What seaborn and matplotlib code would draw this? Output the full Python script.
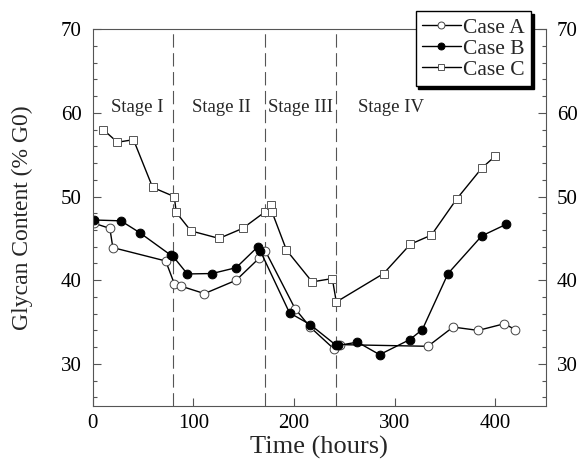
import matplotlib
matplotlib.use("Agg")
import matplotlib.pyplot as plt
from matplotlib.ticker import MultipleLocator
import seaborn as sns
import pandas as pd

# Glycan content (% G0) over culture time for three cases
case_a_time = [1.6, 17, 20, 72.5, 81, 87.5, 111, 142.5, 165, 171.5, 201, 216,
               239.5, 246, 333, 358, 383, 409, 419.5]
case_a_g0 = [46.8, 46.2, 43.9, 42.3, 39.6, 39.3, 38.4, 40.0, 42.6, 43.5, 36.6,
             34.4, 31.8, 32.3, 32.1, 34.4, 34.0, 34.8, 34.1]

case_b_time = [1.6, 28, 46.5, 77.5, 79.5, 94, 118.5, 142.5, 164, 166.5, 195.5,
               216, 242, 244, 263, 285, 315, 327.5, 353, 386.5, 411]
case_b_g0 = [47.2, 47.1, 45.7, 43.0, 42.9, 40.75, 40.8, 41.5, 44.0, 43.5, 36.1,
             34.7, 32.2, 32.2, 32.6, 31.1, 32.9, 34.1, 40.8, 45.3, 46.7]

case_c_time = [10.5, 24.5, 40.5, 59.5, 81, 83, 97.5, 125.5, 149, 171.5, 177,
               178, 192.5, 218, 238, 242, 289, 315.5, 336.5, 361.5, 386.5, 399.5]
case_c_g0 = [58.0, 56.5, 56.8, 51.1, 50.0, 48.1, 45.9, 45.0, 46.2, 48.2, 49.0,
             48.2, 43.6, 39.8, 40.2, 37.4, 40.8, 44.3, 45.4, 49.7, 53.4, 54.8]

stage_bounds = [80, 171, 242]
stage_names = ["Stage I", "Stage II", "Stage III", "Stage IV"]
stage_label_x = [44.5, 127.5, 206, 296]

sns.set_style("ticks")
plt.rcParams["font.family"] = ["Liberation Serif", "DejaVu Serif"]

fig = plt.figure(figsize=(5.81, 4.63), dpi=100)
ax = fig.add_axes([0.1596, 0.1238, 0.7796, 0.8129])

series = [
    ("Case A", case_a_time, case_a_g0,
     dict(marker="o", markersize=6.3, markerfacecolor="white",
          markeredgecolor="#444444", markeredgewidth=0.7)),
    ("Case B", case_b_time, case_b_g0,
     dict(marker="o", markersize=6.3, markerfacecolor="black",
          markeredgecolor="black", markeredgewidth=0.7)),
    ("Case C", case_c_time, case_c_g0,
     dict(marker="s", markersize=6.4, markerfacecolor="white",
          markeredgecolor="#555555", markeredgewidth=0.7)),
]

for name, t, g, style in series:
    df = pd.DataFrame({"time": t, "g0": g})
    sns.lineplot(data=df, x="time", y="g0", sort=False, estimator=None,
                 color="black", linewidth=1.0, label=name, ax=ax, **style)

for xb in stage_bounds:
    ax.axvline(xb, color="#555555", linewidth=0.8, dashes=(12, 5), zorder=0)

for name, xs in zip(stage_names, stage_label_x):
    ax.text(xs, 60.6, name, ha="center", va="center", fontsize=13.5)

ax.set_xlim(0, 450)
ax.set_ylim(25, 70)
ax.xaxis.set_major_locator(MultipleLocator(100))
ax.yaxis.set_minor_locator(MultipleLocator(2))
ax.set_yticks([30, 40, 50, 60, 70])
ax.tick_params(axis="both", which="both", direction="in", colors="#555555",
               labelcolor="black", labelsize=15, width=0.8)
ax.tick_params(axis="x", which="major", length=6, pad=6)
ax.tick_params(axis="y", which="major", length=6, left=True, right=True,
               labelleft=True, labelright=True, pad=8)
ax.tick_params(axis="y", which="minor", length=3, left=True, right=True)
ax.tick_params(axis="x", which="minor", bottom=False)
for sp in ax.spines.values():
    sp.set_color("#555555")
    sp.set_linewidth(0.8)

ax.set_xlabel("Time (hours)", fontsize=19, labelpad=2)
ax.set_ylabel("Glycan Content (% G0)", fontsize=17, labelpad=20)

leg = ax.legend(loc="upper right", bbox_to_anchor=(0.9675, 1.0486),
                fontsize=15.5, frameon=True, fancybox=False,
                shadow={"color": "black", "alpha": 1.0},
                handlelength=1.8, handletextpad=0.1, borderpad=0.3,
                labelspacing=0.05, borderaxespad=0.0)
leg.get_frame().set_edgecolor("black")
leg.get_frame().set_linewidth(1.0)
leg.get_frame().set_alpha(1.0)
for h in leg.legend_handles:
    h.set_markersize(5)

fig.savefig("out.png", dpi=100)
